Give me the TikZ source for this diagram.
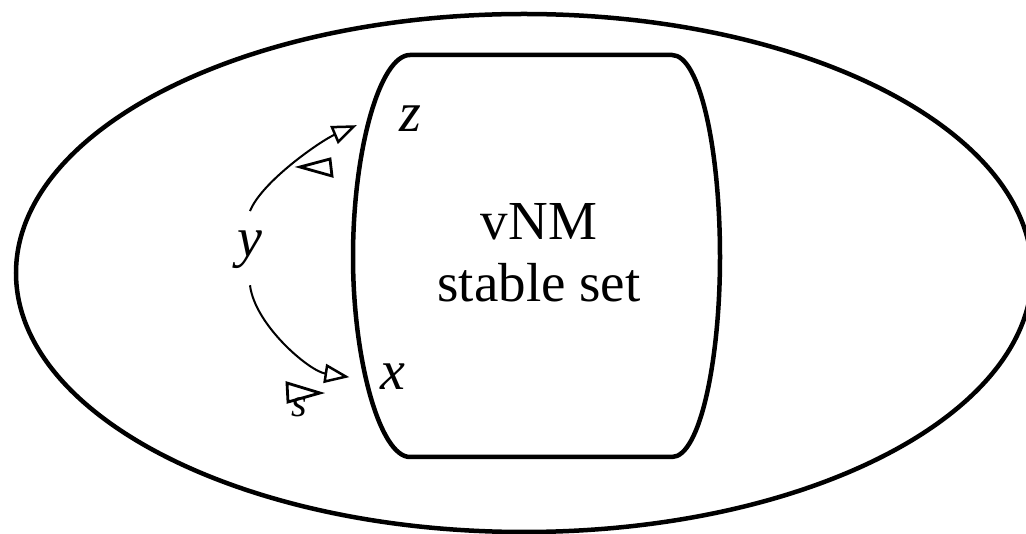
\documentclass[tikz,border=0pt]{standalone}
\usepackage{fontspec}
\setmainfont{Liberation Serif}
\usetikzlibrary{arrows.meta}
\begin{document}
\begin{tikzpicture}[x=1pt,y=-1pt,
  set/.style={line width=4.5pt},
  arr/.style={line width=2pt,-{Triangle[open,length=25pt,width=19pt,line width=2.5pt]}},
  lbl/.style={inner sep=0pt,font=\fontsize{56}{60}\selectfont\itshape},
  tri/.style={line width=2.8pt,line join=miter}]
\useasboundingbox (0,0) rectangle (1026,534);
\draw[set] (524,273) ellipse [x radius=508pt, y radius=259pt];
\draw[set] (410,55) -- (672,55) .. controls (700,55) and (720,150) .. (720,257)
  .. controls (720,360) and (700,457) .. (672,457) -- (410,457)
  .. controls (380,457) and (353,360) .. (353,257)
  .. controls (353,150) and (380,55) .. (410,55) -- cycle;
\node[lbl,anchor=base] (z) at (410,132) {z};
\node[lbl,anchor=base] (x) at (393,390) {x};
\node[lbl,anchor=base] (y) at (250,257) {y};
\node[inner sep=0pt,font=\fontsize{40}{42}\selectfont\itshape,anchor=base] (s) at (299,417) {s};
\node[align=center,inner sep=0pt,font=\fontsize{55}{62}\selectfont] (vnm) at (539,253) {vNM\\stable set};
\draw[arr] ([yshift=20pt]y.north) .. controls +(12,-30) and +(-35,15) .. ([xshift=-42pt,yshift=-6pt]z.west);
\draw[arr] ([yshift=-16pt]y.south) .. controls +(5,40) and +(-40,-6) .. ([xshift=-31pt]x.west);
\draw[tri] (300,167) -- (330,159) -- (332,176) -- cycle;
\draw[tri] (287,383) -- (320,393) -- (288,402) -- cycle;
\end{tikzpicture}
\end{document}
